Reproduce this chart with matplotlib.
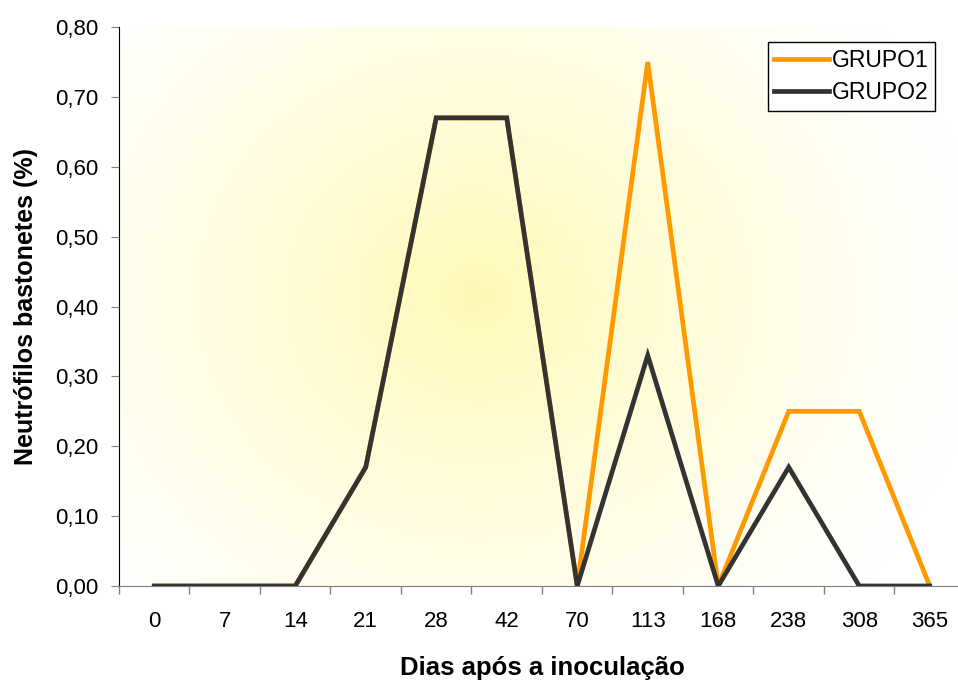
import numpy as np
import matplotlib.pyplot as plt
from matplotlib.ticker import FuncFormatter, FixedLocator

plt.rcParams['font.family'] = ['Liberation Sans', 'DejaVu Sans']

dias = ['0', '7', '14', '21', '28', '42', '70', '113', '168', '238', '308', '365']
grupo1 = [0, 0, 0, 0.17, 0.67, 0.67, 0, 0.75, 0, 0.25, 0.25, 0]
grupo2 = [0, 0, 0, 0.17, 0.67, 0.67, 0, 0.33, 0, 0.17, 0, 0]

fig = plt.figure(figsize=(9.58, 6.84), dpi=100)
ax = fig.add_axes([0.1242, 0.1433, 0.8831, 0.8172])

x = np.arange(len(dias))

# soft radial yellow background
gx, gy = np.meshgrid(np.linspace(0, 1, 300), np.linspace(0, 1, 300))
r = np.sqrt(((gx - 0.42) / 0.6) ** 2 + ((gy - 0.52) / 0.8) ** 2)
a = np.clip(1 - r, 0, 1) ** 1.2
img = np.ones((300, 300, 4))
img[..., 1] = 1.0 - 0.02 * a
img[..., 2] = 1.0 - 0.28 * a
ax.imshow(img, extent=[-0.5, 11.5, 0, 0.8], aspect='auto', zorder=0, origin='lower')

ax.plot(x, grupo1, color='#FF9900', lw=3.4, label='GRUPO1', zorder=3, solid_joinstyle='miter')
ax.plot(x, grupo2, color='#333333', lw=3.4, label='GRUPO2', zorder=4, solid_joinstyle='miter')

ax.set_xlim(-0.5, 11.5)
ax.set_ylim(0, 0.8)
ax.set_xticks(x)
ax.set_xticklabels(dias)
ax.tick_params(axis='x', which='major', length=0, pad=18, labelsize=16)
ax.xaxis.set_minor_locator(FixedLocator(np.arange(-0.5, 12, 1)))
ax.tick_params(axis='x', which='minor', length=6, color='#808080', width=1)
ax.set_yticks(np.arange(0, 0.81, 0.1))
ax.yaxis.set_major_formatter(FuncFormatter(lambda v, p: f'{v:.2f}'.replace('.', ',')))
ax.tick_params(axis='y', length=6, color='#808080', labelsize=16, pad=9)

for s in ['top', 'right']:
    ax.spines[s].set_visible(False)
ax.spines['left'].set_color('black')
ax.spines['bottom'].set_color('#808080')

ax.set_xlabel('Dias após a inoculação', fontsize=18.5, fontweight='bold', labelpad=17)
ax.set_ylabel('Neutrófilos bastonetes (%)', fontsize=18, fontweight='bold', labelpad=12)

leg = ax.legend(loc='upper right', bbox_to_anchor=(0.965, 0.973), fontsize=16.5,
                fancybox=False, edgecolor='black', framealpha=1, handlelength=2.4,
                borderpad=0.3, labelspacing=0.4, handletextpad=0.1, borderaxespad=0)
leg.get_frame().set_linewidth(1)

fig.savefig('out.png', dpi=100)
